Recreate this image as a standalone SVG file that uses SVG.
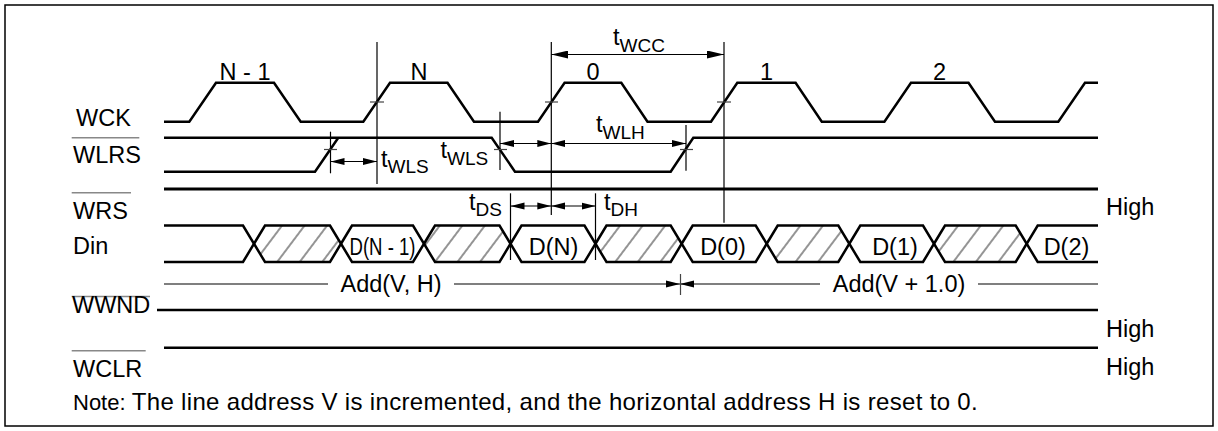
<svg xmlns="http://www.w3.org/2000/svg" width="1218" height="431" viewBox="0 0 1218 431">
<style>
text{font-family:"Liberation Sans",Arial,sans-serif;font-size:23.5px;fill:#000}
.sub{font-size:19px}
.sig{fill:none;stroke:#000;stroke-width:2.5;stroke-linejoin:miter}
.bar{stroke:#888;stroke-width:1.6}
.ref{stroke:#000;stroke-width:1.2}
.tick{stroke:#444;stroke-width:1.2}
.dim{stroke:#000;stroke-width:1.2;fill:none}
.addl{stroke:#555;stroke-width:1.3;fill:none}
.hx{stroke:#000;stroke-width:2.5;stroke-linejoin:miter}
.mid{text-anchor:middle}
</style>
<defs>
<marker id="ah" viewBox="0 0 14 8" markerWidth="14" markerHeight="8" refX="14" refY="4" markerUnits="userSpaceOnUse" orient="auto-start-reverse"><path d="M0,0.5 L14,4 L0,7.5 z" fill="#000"/></marker>
<marker id="ahb" viewBox="0 0 17 8" markerWidth="17" markerHeight="8" refX="17" refY="4" markerUnits="userSpaceOnUse" orient="auto-start-reverse"><path d="M0,0 L17,4 L0,8 z" fill="#000"/></marker>
<pattern id="hatch" patternUnits="userSpaceOnUse" width="18" height="10" patternTransform="rotate(37)"><line x1="1" y1="-1" x2="1" y2="11" stroke="#111" stroke-width="0.9"/></pattern>
</defs>
<rect x="5" y="5" width="1208" height="421" fill="none" stroke="#000" stroke-width="1.5"/>

<g id="wck">
<text x="76" y="126">WCK</text>
<path class="sig" d="M164,121.7 L189.3,121.7 L216,82.7 L274,82.7 L300.7,121.7 L363.3,121.7 L390,82.7 L447.5,82.7 L474,121.7 L538,121.7 L564.6,82.7 L621.3,82.7 L647.5,121.7 L711,121.7 L737.3,82.7 L795.6,82.7 L821.8,121.7 L884.4,121.7 L911,82.7 L968.5,82.7 L995,121.7 L1058.3,121.7 L1085,82.7 L1098,82.7"/>
<text class="mid" x="245" y="80">N - 1</text>
<text class="mid" x="419" y="80">N</text>
<text class="mid" x="593" y="80">0</text>
<text class="mid" x="766.5" y="80">1</text>
<text class="mid" x="939.5" y="80">2</text>
</g>

<g id="wlrs">
<line class="bar" x1="71.7" y1="137.7" x2="139.3" y2="137.7"/>
<text x="73" y="163.3">WLRS</text>
<path class="sig" d="M164,137.7 L491.7,137.7 L515,171.7 L670.7,171.7 L693.3,137.7 L1098,137.7"/>
<path class="sig" d="M164,171.7 L315,171.7 L338.3,137.7"/>
</g>

<g id="wrs">
<line class="bar" x1="71.7" y1="192.7" x2="131" y2="192.7"/>
<text x="73" y="219">WRS</text>
<line class="sig" x1="164" y1="189" x2="1098" y2="189" style="stroke-width:2.8"/>
<text x="1106" y="214.5">High</text>
</g>

<g id="din">
<text x="73" y="254">Din</text>
<polyline class="sig" points="164,225.5 243,225.5 254,243.75 243,262 164,262"/>
<polygon class="hx" fill="url(#hatch)" points="254,243.75 265,225.5 330,225.5 341,243.75 330,262 265,262"/>
<polygon class="hx" fill="none" points="341,243.75 352,225.5 413,225.5 424,243.75 413,262 352,262"/>
<polygon class="hx" fill="url(#hatch)" points="424,243.75 435,225.5 499.5,225.5 510.5,243.75 499.5,262 435,262"/>
<polygon class="hx" fill="none" points="510.5,243.75 521.5,225.5 584.5,225.5 595.5,243.75 584.5,262 521.5,262"/>
<polygon class="hx" fill="url(#hatch)" points="595.5,243.75 606.5,225.5 670.7,225.5 681.7,243.75 670.7,262 606.5,262"/>
<polygon class="hx" fill="none" points="681.7,243.75 692.7,225.5 755.7,225.5 766.7,243.75 755.7,262 692.7,262"/>
<polygon class="hx" fill="url(#hatch)" points="766.7,243.75 777.7,225.5 838.3,225.5 849.3,243.75 838.3,262 777.7,262"/>
<polygon class="hx" fill="none" points="849.3,243.75 860.3,225.5 923,225.5 934,243.75 923,262 860.3,262"/>
<polygon class="hx" fill="url(#hatch)" points="934,243.75 945,225.5 1015.7,225.5 1026.7,243.75 1015.7,262 945,262"/>
<polyline class="sig" points="1098,225.5 1037.7,225.5 1026.7,243.75 1037.7,262 1098,262"/>
<text class="mid" x="382.5" y="255" textLength="66" lengthAdjust="spacingAndGlyphs">D(N - 1)</text>
<text class="mid" x="553.5" y="255">D(N)</text>
<text class="mid" x="723" y="255">D(0)</text>
<text class="mid" x="895" y="255">D(1)</text>
<text class="mid" x="1066.5" y="255">D(2)</text>
</g>

<g id="address">
<line class="addl" x1="164" y1="284" x2="328" y2="284"/>
<text class="mid" x="391" y="292">Add(V, H)</text>
<line class="addl" x1="454" y1="284" x2="680" y2="284" marker-end="url(#ah)"/>
<line class="addl" x1="820" y1="284" x2="680" y2="284" marker-end="url(#ah)"/>
<line class="tick" x1="680.5" y1="274" x2="680.5" y2="295"/>
<text class="mid" x="899" y="292">Add(V + 1.0)</text>
<line class="addl" x1="978" y1="284" x2="1098" y2="284"/>
</g>

<g id="wwnd">
<line class="bar" x1="71.7" y1="296.5" x2="150" y2="296.5"/>
<text x="72" y="313">WWND</text>
<line class="sig" x1="157" y1="310" x2="1098" y2="310"/>
<text x="1106" y="336.7">High</text>
</g>

<g id="wclr">
<line class="bar" x1="71.7" y1="350.7" x2="145.7" y2="350.7"/>
<text x="73" y="376.7">WCLR</text>
<line class="sig" x1="164" y1="347.7" x2="1098" y2="347.7"/>
<text x="1106" y="375">High</text>
</g>

<g id="connectors">
<line class="ref" x1="377" y1="42" x2="377" y2="184"/>
<line class="ref" x1="551.3" y1="42" x2="551.3" y2="215"/>
<line class="ref" x1="724" y1="42" x2="724" y2="222.7"/>
<line class="ref" x1="330.5" y1="131.7" x2="330.5" y2="173.3"/>
<line class="ref" x1="500" y1="111.7" x2="500" y2="170"/>
<line class="ref" x1="686" y1="125" x2="686" y2="170.7"/>
<line class="ref" x1="510.5" y1="193.3" x2="510.5" y2="260"/>
<line class="ref" x1="595.5" y1="193.3" x2="595.5" y2="260"/>
<line class="tick" x1="370" y1="102" x2="384" y2="102"/>
<line class="tick" x1="545" y1="102" x2="558" y2="102"/>
<line class="tick" x1="717" y1="102" x2="731" y2="102"/>
<line class="tick" x1="324" y1="149.5" x2="337" y2="149.5"/>
<line class="tick" x1="494" y1="149.5" x2="507" y2="149.5"/>
<line class="tick" x1="680" y1="149.5" x2="693" y2="149.5"/>
<line class="dim" x1="551.3" y1="54.5" x2="724" y2="54.5" marker-start="url(#ahb)" marker-end="url(#ahb)"/>
<line class="dim" x1="330.5" y1="161.5" x2="377" y2="161.5" marker-start="url(#ah)" marker-end="url(#ah)"/>
<line class="dim" x1="500" y1="143.5" x2="551.3" y2="143.5" marker-start="url(#ah)" marker-end="url(#ah)"/>
<line class="dim" x1="551.3" y1="143.5" x2="686" y2="143.5" marker-start="url(#ah)" marker-end="url(#ah)"/>
<line class="dim" x1="510.5" y1="206" x2="551.3" y2="206" marker-start="url(#ah)" marker-end="url(#ah)"/>
<line class="dim" x1="551.3" y1="206" x2="595.5" y2="206" marker-start="url(#ah)" marker-end="url(#ah)"/>
<text x="613" y="45">t<tspan class="sub" dy="6.7">WCC</tspan></text>
<text x="381" y="166.5">t<tspan class="sub" dy="6.2">WLS</tspan></text>
<text x="440.5" y="157.5">t<tspan class="sub" dy="7">WLS</tspan></text>
<text x="596" y="132">t<tspan class="sub" dy="6.5">WLH</tspan></text>
<text x="469" y="210">t<tspan class="sub" dy="5.7">DS</tspan></text>
<text x="604" y="210">t<tspan class="sub" dy="6">DH</tspan></text>
</g>

<g id="note">
<text x="73" y="410" style="font-size:22px">Note:</text>
<text x="131.7" y="410" style="font-size:24px" textLength="846" lengthAdjust="spacing">The line address V is incremented, and the horizontal address H is reset to 0.</text>
</g>
</svg>
